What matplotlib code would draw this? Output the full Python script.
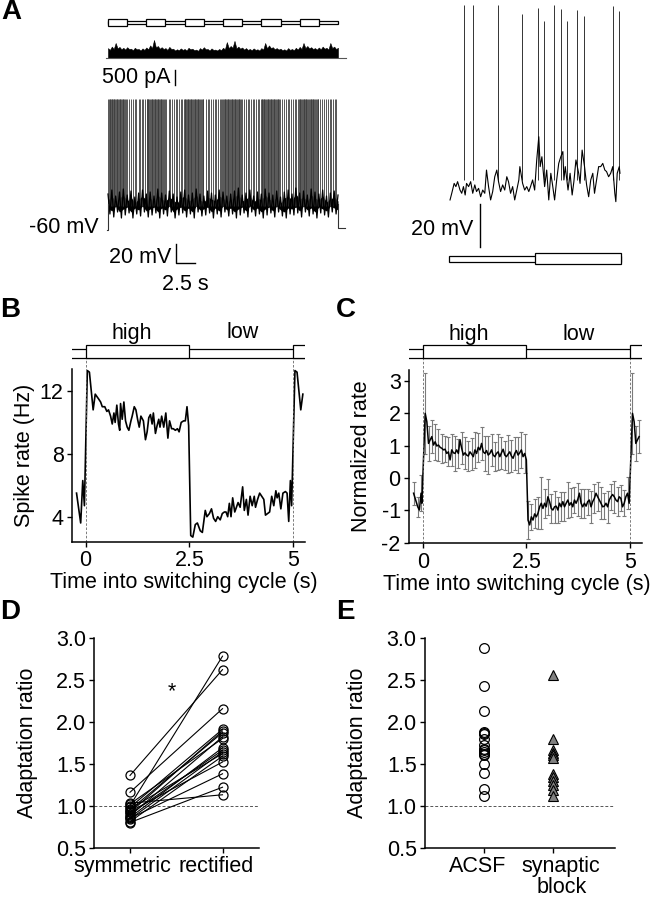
import matplotlib
matplotlib.use('Agg')
import matplotlib.pyplot as plt
from matplotlib.patches import Rectangle
from matplotlib.transforms import ScaledTranslation
import numpy as np

plt.rcParams['font.family'] = ['Liberation Sans', 'DejaVu Sans']
plt.rcParams['axes.unicode_minus'] = False
FS = 15.5

# ---------------- data ----------------
# Panel A (left): 30 s recording, stimulus switching every 2.5 s
A_stim_on = [0, 5, 10, 15, 20, 25]
A_stim_dur = 2.5
A_stim_end = 30
A_cur_top = [330, 270, 380, 300, 500, 320, 370, 290, 340, 280,
             360, 300, 310, 260, 340, 290, 300, 250, 320, 270,
             350, 290, 420, 330, 600, 350, 400, 310, 360, 300,
             330, 270, 370, 300, 310, 250, 290, 260, 320, 270,
             300, 250, 340, 290, 310, 260, 280, 240, 330, 280,
             360, 290, 300, 250, 320, 270, 280, 250, 300, 260,
             340, 290, 530, 330, 400, 340, 570, 320, 380, 310,
             350, 280, 330, 270, 300, 260, 320, 270, 290, 250,
             330, 280, 500, 320, 420, 330, 360, 290, 330, 280,
             310, 260, 290, 250, 330, 270, 300, 260, 340, 280,
             370, 300, 500, 330, 400, 320, 360, 300, 330, 280,
             350, 290, 380, 310, 340, 280, 500, 330, 380, 300,
             340]
A_v_up = [-24, -20, -26, -22, -19, -25, -21, -27, -23, -20,
          -24, -22, -26, -19, -23, -25, -21, -24, -27, -22,
          -20, -25, -23, -19, -24, -26, -21, -23, -25, -20,
          -22, -26, -24, -21, -18, -25, -23, -20, -26, -22,
          -24, -19, -23, -25, -21, -27, -22, -20, -24, -18,
          -23, -21, -25, -19, -22, -24, -20, -26, -23, -21,
          -25]
A_v_lo = [-44, -47, -42, -48, -45, -43, -48, -44, -46, -42,
          -47, -45, -43, -48, -44, -46, -42, -48, -45, -43,
          -47, -44, -48, -42, -46, -45, -43, -48, -44, -47,
          -42, -46, -44, -48, -45, -43, -47, -42, -46, -44,
          -48, -45, -43, -47, -42, -46, -48, -44, -45, -43,
          -47, -42, -46, -44, -48, -43, -45, -47, -42, -44,
          -46]
A_spikes = [0.05, 0.12, 0.2, 0.31, 0.4, 0.47, 0.58, 0.66, 0.75, 0.83, 0.95, 1.04, 1.12,
            1.23, 1.31, 1.42, 1.5, 1.61, 1.7, 1.79, 1.9, 2.01, 2.1, 2.22, 2.33, 2.42,
            2.7, 2.95, 3.25, 3.5, 3.7, 3.98, 4.2, 4.41, 4.6, 4.83,
            5.04, 5.1, 5.19, 5.28, 5.39, 5.46, 5.57, 5.69, 5.77, 5.88, 5.96, 6.07, 6.18,
            6.27, 6.36, 6.48, 6.55, 6.66, 6.78, 6.86, 6.97, 7.08, 7.2, 7.29, 7.41,
            7.62, 7.9, 8.15, 8.33, 8.6, 8.81, 9.05, 9.28, 9.5, 9.7, 9.88,
            10.03, 10.09, 10.18, 10.3, 10.37, 10.49, 10.58, 10.67, 10.79, 10.88, 10.99,
            11.06, 11.17, 11.3, 11.38, 11.47, 11.6, 11.68, 11.8, 11.91, 12.0, 12.12,
            12.2, 12.33, 12.45,
            12.75, 13.0, 13.2, 13.48, 13.7, 13.92, 14.1, 14.35, 14.55, 14.75, 14.92,
            15.05, 15.11, 15.2, 15.32, 15.4, 15.51, 15.6, 15.71, 15.8, 15.92, 16.0,
            16.13, 16.22, 16.3, 16.43, 16.52, 16.61, 16.73, 16.82, 16.9, 17.03, 17.12,
            17.25, 17.33, 17.44,
            17.68, 17.95, 18.2, 18.4, 18.66, 18.85, 19.1, 19.3, 19.5, 19.72, 19.9,
            20.04, 20.1, 20.21, 20.29, 20.4, 20.5, 20.61, 20.7, 20.82, 20.9, 21.01,
            21.1, 21.22, 21.32, 21.41, 21.5, 21.63, 21.71, 21.83, 21.92, 22.02, 22.14,
            22.23, 22.35, 22.44,
            22.7, 22.98, 23.22, 23.45, 23.66, 23.9, 24.12, 24.33, 24.56, 24.78, 24.93,
            25.03, 25.1, 25.2, 25.31, 25.39, 25.5, 25.58, 25.7, 25.81, 25.89, 26.0,
            26.11, 26.2, 26.32, 26.42, 26.5, 26.62, 26.71, 26.8, 26.93, 27.02, 27.13,
            27.22, 27.34, 27.43,
            27.7, 27.96, 28.2, 28.45, 28.68, 28.9, 29.12, 29.35, 29.57, 29.8]
A_spike_peak = 71
A_hold = -60

# Panel A (right): one 5 s cycle, low then high
AR_t = [0.03, 0.08, 0.15, 0.20, 0.25, 0.32, 0.37, 0.42, 0.47, 0.51,
        0.57, 0.63, 0.69, 0.75, 0.80, 0.86, 0.92, 0.98, 1.04, 1.09,
        1.15, 1.21, 1.27, 1.33, 1.39, 1.44, 1.50, 1.56, 1.62, 1.68,
        1.73, 1.79, 1.85, 1.91, 1.97, 2.03, 2.06, 2.14, 2.20, 2.26,
        2.32, 2.37, 2.43, 2.49, 2.55, 2.61, 2.65, 2.70, 2.78, 2.84,
        2.90, 2.96, 3.01, 3.07, 3.13, 3.19, 3.25, 3.31, 3.34, 3.38,
        3.46, 3.52, 3.58, 3.63, 3.69, 3.77, 3.81, 3.87, 3.94, 4.00,
        4.06, 4.12, 4.18, 4.23, 4.29, 4.35, 4.41, 4.47, 4.53, 4.58,
        4.64, 4.70, 4.76, 4.82, 4.85, 4.89, 4.95, 4.97]
AR_v = [-57.3, -54.2, -49.6, -51.1, -48.8, -52.7, -54.2, -51.1, -55.0, -49.6,
        -51.1, -48.8, -54.2, -50.3, -53.4, -51.9, -55.8, -52.7, -54.2, -43.4,
        -51.1, -57.3, -53.4, -46.5, -43.4, -48.8, -53.4, -50.3, -52.7, -46.5,
        -48.8, -54.2, -51.1, -57.3, -52.7, -48.0, -41.8, -49.6, -52.7, -51.1,
        -53.4, -51.1, -48.0, -52.7, -38.7, -27.9, -41.8, -37.2, -51.1, -43.4,
        -57.3, -44.9, -50.3, -57.3, -48.0, -40.3, -37.2, -34.8, -48.0, -41.8,
        -52.7, -44.9, -55.0, -48.8, -38.7, -44.9, -49.6, -34.1, -41.8, -50.3,
        -55.8, -48.0, -44.9, -54.2, -48.0, -41.8, -41.8, -40.3, -43.4, -44.1,
        -46.5, -44.9, -41.8, -54.2, -58.1, -44.9, -41.8, -44.9]
AR_spk_t = [0.44, 0.70, 1.43, 2.11, 2.58, 2.76, 3.04, 3.26, 3.42, 3.73, 3.91, 4.78, 4.94]
AR_spk_peak = [33.4, 33.4, 33.4, 29.2, 31.8, 26.1, 33.4, 31.4, 26.1, 31.0, 28.3, 32.9, 30.7]
AR_stim_on = [2.5]
AR_stim_dur = 2.5
AR_cycle = 5

# Panel B: spike rate of one cell
B_time = [-0.22, -0.12, -0.07, -0.03, 0.04, 0.09, 0.18, 0.23, 0.31, 0.36,
          0.40, 0.46, 0.51, 0.55, 0.60, 0.64, 0.68, 0.71, 0.75, 0.79,
          0.82, 0.84, 0.88, 0.92, 0.96, 1.00, 1.04, 1.09, 1.12, 1.17,
          1.21, 1.25, 1.29, 1.33, 1.39, 1.44, 1.48, 1.52, 1.56, 1.60,
          1.63, 1.68, 1.72, 1.76, 1.79, 1.83, 1.88, 1.93, 1.98, 2.02,
          2.07, 2.11, 2.16, 2.21, 2.25, 2.30, 2.36, 2.40, 2.44, 2.48,
          2.53, 2.58, 2.64, 2.69, 2.76, 2.81, 2.88, 2.92, 2.98, 3.03,
          3.08, 3.13, 3.18, 3.24, 3.29, 3.34, 3.38, 3.42, 3.46, 3.50,
          3.54, 3.59, 3.63, 3.67, 3.72, 3.78, 3.82, 3.87, 3.91, 3.96,
          4.01, 4.06, 4.09, 4.14, 4.19, 4.24, 4.29, 4.33, 4.38, 4.43,
          4.48, 4.53, 4.58, 4.61, 4.65, 4.70, 4.75, 4.81, 4.85, 4.89,
          4.93, 4.96, 5.04, 5.09, 5.18, 5.23]
B_rate = [5.5, 3.6, 6.3, 4.7, 13.3, 13.2, 10.8, 11.8, 11.5, 11.3,
          11.0, 11.0, 10.7, 10.8, 10.4, 9.9, 10.6, 10.0, 11.1, 9.9,
          9.5, 11.2, 10.2, 11.3, 10.1, 9.7, 9.5, 10.1, 10.4, 11.0,
          10.8, 10.2, 9.7, 10.4, 10.1, 8.9, 9.4, 10.3, 10.5, 9.9,
          10.6, 9.3, 9.8, 10.2, 9.7, 10.4, 9.7, 10.6, 9.0, 10.1,
          9.6, 9.6, 9.5, 9.6, 9.4, 10.0, 10.1, 10.1, 11.0, 9.8,
          2.8, 2.7, 3.5, 3.6, 3.1, 3.0, 4.4, 4.0, 4.2, 4.5,
          3.9, 3.7, 4.0, 3.8, 4.2, 4.3, 4.3, 4.0, 4.85, 4.0,
          5.2, 4.3, 4.6, 4.9, 4.6, 5.9, 4.4, 5.1, 4.1, 5.3,
          4.7, 5.3, 4.6, 5.1, 5.5, 5.3, 5.1, 4.1, 4.2, 4.3,
          5.3, 4.7, 5.65, 5.2, 5.5, 4.5, 5.5, 5.6, 5.5, 3.7,
          6.3, 4.7, 13.3, 13.2, 10.8, 11.8]

# Panel C: normalized rate, mean +/- SEM
C_time = [-0.22, -0.17, -0.12, -0.08, -0.04, -0.02, 0.06, 0.10, 0.14, 0.18,
          0.22, 0.26, 0.30, 0.34, 0.38, 0.42, 0.46, 0.50, 0.54, 0.58,
          0.62, 0.66, 0.70, 0.74, 0.78, 0.82, 0.86, 0.90, 0.94, 0.98,
          1.02, 1.06, 1.10, 1.14, 1.18, 1.22, 1.26, 1.30, 1.34, 1.38,
          1.42, 1.46, 1.50, 1.54, 1.58, 1.62, 1.66, 1.70, 1.74, 1.78,
          1.82, 1.86, 1.90, 1.94, 1.98, 2.02, 2.06, 2.10, 2.14, 2.18,
          2.22, 2.26, 2.30, 2.34, 2.38, 2.42, 2.46, 2.50, 2.54, 2.58,
          2.62, 2.66, 2.70, 2.74, 2.78, 2.82, 2.86, 2.90, 2.94, 2.98,
          3.02, 3.06, 3.10, 3.14, 3.18, 3.22, 3.26, 3.30, 3.34, 3.38,
          3.42, 3.46, 3.50, 3.54, 3.58, 3.62, 3.66, 3.70, 3.74, 3.78,
          3.82, 3.86, 3.90, 3.94, 3.98, 4.02, 4.06, 4.10, 4.14, 4.18,
          4.22, 4.26, 4.30, 4.34, 4.38, 4.42, 4.46, 4.50, 4.54, 4.58,
          4.62, 4.66, 4.70, 4.74, 4.78, 4.82, 4.86, 4.90, 4.94, 4.98,
          5.06, 5.10, 5.14, 5.18, 5.22]
C_mean = [-0.47, -0.68, -0.89, -0.99, -0.47, -0.78, 2.00, 1.74, 1.07, 1.18,
          1.28, 1.02, 1.12, 0.99, 1.02, 0.95, 0.92, 0.87, 0.89, 0.76,
          0.81, 0.56, 0.87, 0.78, 0.76, 0.87, 0.76, 1.18, 0.92, 0.71,
          0.78, 0.71, 0.68, 0.81, 0.74, 0.66, 0.87, 0.76, 0.95, 0.87,
          1.07, 0.81, 0.76, 0.85, 0.71, 0.76, 0.87, 0.71, 0.66, 0.76,
          0.81, 0.66, 0.78, 0.89, 0.71, 0.66, 0.74, 0.81, 0.68, 0.61,
          0.76, 0.85, 0.71, 0.78, 0.87, 0.66, 0.76, 0.56, -1.30, -1.45,
          -1.20, -1.30, -1.11, -1.20, -1.09, -0.89, -0.78, -0.94, -0.78, -0.89,
          -0.58, -0.73, -0.94, -0.99, -0.89, -0.87, -0.99, -0.78, -0.89, -0.73,
          -0.89, -0.78, -0.68, -0.84, -0.76, -0.89, -0.68, -0.78, -0.66, -0.47,
          -0.78, -0.89, -0.78, -0.87, -0.73, -0.68, -0.89, -0.73, -0.63, -0.47,
          -0.58, -0.68, -0.78, -0.89, -0.87, -0.78, -0.89, -0.68, -0.58, -0.51,
          -0.58, -0.68, -0.73, -0.58, -0.63, -0.89, -0.78, -0.58, -0.47, -0.78,
          2.00, 1.74, 1.07, 1.18, 1.28]
C_err = [0.35, 0.40, 0.30, 0.25, 0.55, 0.40, 1.25, 0.90, 0.55, 0.45,
         0.50, 0.45, 0.55, 0.40, 0.50, 0.60, 0.45, 0.50, 0.40, 0.55,
         0.45, 0.58, 0.50, 0.45, 0.55, 0.50, 0.45, 0.55, 0.50, 0.45,
         0.50, 0.55, 0.45, 0.60, 0.50, 0.45, 0.55, 0.50, 0.45, 0.55,
         0.50, 0.45, 0.55, 0.50, 0.60, 0.45, 0.50, 0.55, 0.45, 0.50,
         0.55, 0.45, 0.50, 0.55, 0.45, 0.50, 0.60, 0.45, 0.50, 0.55,
         0.50, 0.45, 0.55, 0.50, 0.55, 0.50, 0.60, 0.65, 0.60, 0.45,
         0.40, 0.35, 0.45, 0.40, 0.50, 0.45, 0.80, 0.50, 0.45, 0.40,
         0.55, 0.75, 0.45, 0.40, 0.50, 0.45, 0.40, 0.50, 0.45, 0.40,
         0.45, 0.50, 0.55, 0.40, 0.45, 0.50, 0.40, 0.45, 0.50, 0.65,
         0.45, 0.40, 0.45, 0.50, 0.40, 0.45, 0.50, 0.40, 0.45, 0.50,
         0.45, 0.40, 0.50, 0.45, 0.40, 0.45, 0.50, 0.45, 0.40, 0.45,
         0.50, 0.40, 0.45, 0.50, 0.40, 0.45, 0.40, 0.45, 0.50, 0.45,
         1.25, 0.90, 0.55, 0.45, 0.50]
BC_stim_on = [0, 5]
BC_stim_dur = 2.5
BC_xticks = [0, 2.5, 5]
BC_xticklabels = ['0', '2.5', '5']
B_yticks = [4, 8, 12]
C_yticks = [-2, -1, 0, 1, 2, 3]
BC_labels = ['high', 'low']

# Panel D: paired adaptation ratios
D_categories = ['symmetric', 'rectified']
D_sym = [1.00, 1.36, 1.16, 0.98, 0.92, 0.95, 0.88, 1.02, 0.86, 0.90,
         0.84, 0.96, 0.81, 0.93, 0.85, 0.80, 1.03]
D_rect = [2.78, 2.62, 2.155, 1.91, 1.89, 1.87, 1.82, 1.80, 1.69, 1.66,
          1.64, 1.62, 1.59, 1.52, 1.38, 1.22, 1.13]

# Panel E: ACSF vs synaptic block
E_categories = ['ACSF', 'synaptic\nblock']
E_acsf = [2.88, 2.42, 2.13, 1.88, 1.86, 1.85, 1.80, 1.72, 1.68, 1.66,
          1.64, 1.62, 1.60, 1.50, 1.39, 1.20, 1.12]
E_block = [2.56, 1.80, 1.66, 1.63, 1.60, 1.57, 1.38, 1.34, 1.29, 1.25, 1.19, 1.11]
DE_yticks = [0.5, 1.0, 1.5, 2.0, 2.5, 3.0]

# ---------------- figure ----------------
W, H = 662, 899
fig = plt.figure(figsize=(W / 100, H / 100), dpi=100)


def lin(d1, p1, d2, p2, p):
    return d1 + (p - p1) * (d2 - d1) / (p2 - p1)


def mk(L, R, T, B, xmap, ymap, frame=False):
    ax = fig.add_axes([L / W, 1 - B / H, (R - L) / W, (B - T) / H])
    ax.set_xlim(lin(*xmap, L), lin(*xmap, R))
    ax.set_ylim(lin(*ymap, B), lin(*ymap, T))
    if not frame:
        ax.axis('off')
    return ax


def stim(ax, on, dur, t0, t1, box, thin, lw=0.9):
    ax.add_patch(Rectangle((t0, thin[0]), t1 - t0, thin[1] - thin[0],
                           fc='white', ec='black', lw=lw))
    for t in on:
        ax.add_patch(Rectangle((t, box[0]), dur, box[1] - box[0],
                               fc='white', ec='black', lw=lw))


def style_axes(ax):
    for s in ['top', 'right']:
        ax.spines[s].set_visible(False)
    for s in ['left', 'bottom']:
        ax.spines[s].set_linewidth(1.1)
    ax.tick_params(direction='out', length=3.5, width=1.0, pad=2.5,
                   labelsize=FS, colors='black')


# ---- Panel A left ----
xmapA = (0, 108, 30, 338)
axAs = mk(100, 350, 15, 30, xmapA, (0, 30, 1, 15))
stim(axAs, A_stim_on, A_stim_dur, 0, A_stim_end, (0.267, 0.713), (0.40, 0.58))

axAc = mk(100, 350, 35, 62, xmapA, (0, 58, 500, 43))
tgrid_c = np.linspace(0, A_stim_end, len(A_cur_top))
axAc.fill_between(tgrid_c, 0, A_cur_top, color='black', lw=0.4)
axAc.plot([-0.2, 31], [0, 0], color='#555555', lw=0.8)
axAc.plot([8.74, 8.74], [-400, -900], color='black', lw=1.0, clip_on=False)
axAc.text(8.09, -843, '500 pA', ha='right', va='baseline', fontsize=FS, clip_on=False)

axAv = mk(100, 350, 90, 300, xmapA, (-60, 230, -40, 210))
tgrid_v = np.linspace(0, A_stim_end, len(A_v_up))
half = (tgrid_v[1] - tgrid_v[0]) / 2
axAv.vlines(A_spikes, -36, A_spike_peak, color='#3c3c3c', lw=0.6)
# noisy membrane potential: alternate between upper and lower excursions
zz_t, zz_v = [], []
for t, u, l in zip(tgrid_v, A_v_up, A_v_lo):
    zz_t += [t, t + half]
    zz_v += [u, l]
axAv.fill_between(tgrid_v, np.array(A_v_lo) + 6, np.array(A_v_up) - 6, color='black', lw=0)
axAv.plot(zz_t[:-1], zz_v[:-1], color='black', lw=0.9)
axAv.plot([-0.15, 0, 0], [A_hold, A_hold, -34], color='#333333', lw=0.8)
axAv.plot([A_stim_end, A_stim_end, 30.9], [-34, A_hold + 2, A_hold + 2], color='#333333', lw=0.8)
axAv.plot([8.83, 8.83, 11.33], [-74, -93.3, -93.3], color='black', lw=1.0, clip_on=False)
axAv.text(8.3, -93.3, '20 mV', ha='right', va='baseline', fontsize=FS, clip_on=False)
axAv.text(10.04, -120, '2.5 s', ha='center', va='baseline', fontsize=FS, clip_on=False)
axAv.text(-1.27, -63.3, '-60 mV', ha='right', va='baseline', fontsize=FS, clip_on=False)

# ---- Panel A right ----
axAR = mk(440, 635, 0, 275, (0, 449, 5, 621), (-55, 195, -35, 152))
axAR.vlines(AR_spk_t, -48, AR_spk_peak, color='#333333', lw=0.7)
axAR.plot(AR_t, AR_v, color='black', lw=0.8)
axAR.plot([0.9, 0.9], [-59.2, -79.2], color='black', lw=1.0)
axAR.text(0.71, -73.6, '20 mV', ha='right', va='baseline', fontsize=FS)
stim(axAR, AR_stim_on, AR_stim_dur, 0, AR_cycle, (-87.1, -82.0), (-86.2, -83.4))

# ---- Panel B ----
xmapB = (0, 85.67, 5, 293.3)
ymapB = (12, 391, 4, 516.7)
axB = mk(72, 305, 369, 541.7, xmapB, ymapB, frame=True)
style_axes(axB)
axB.plot(B_time, B_rate, color='black', lw=1.2)
yb0 = axB.get_ylim()[0]
ytopB = lin(*ymapB, 358)
for t in BC_stim_on:
    axB.plot([t, t], [yb0, ytopB], color='#666666', lw=0.6, ls=(0, (3, 2)), clip_on=False)
axB.set_xticks(BC_xticks)
axB.set_xticklabels(BC_xticklabels)
axB.set_yticks(B_yticks)
axB.set_ylabel('Spike rate (Hz)', fontsize=FS)
axB.yaxis.set_label_coords(-0.16, 0.5)
axB.set_xlabel('Time into switching cycle (s)', fontsize=FS)
axB.xaxis.set_label_coords(0.48, -0.175)
axB.text(1.115, lin(*ymapB, 338.5), BC_labels[0], ha='center', va='baseline', fontsize=FS, clip_on=False)
axB.text(3.79, lin(*ymapB, 338.5), BC_labels[1], ha='center', va='baseline', fontsize=FS, clip_on=False)
axBs = mk(72, 305, 340, 362, xmapB, (0, 362, 1, 340))
stim(axBs, BC_stim_on, BC_stim_dur, -1, 6, (0.168, 0.773), (0.168, 0.577))

# ---- Panel C ----
xmapC = (0, 422.7, 5, 630)
ymapC = (3, 381, -2, 542.7)
axC = mk(409, 641.7, 370, 543.3, xmapC, ymapC, frame=True)
style_axes(axC)
axC.errorbar(C_time, C_mean, yerr=C_err, fmt='none', ecolor='#7a7a7a',
             elinewidth=0.8, capsize=1.3, capthick=0.8, errorevery=2)
axC.plot(C_time, C_mean, color='black', lw=1.1)
yc0 = axC.get_ylim()[0]
ytopC = lin(*ymapC, 358)
for t in BC_stim_on:
    axC.plot([t, t], [yc0, ytopC], color='#666666', lw=0.6, ls=(0, (3, 2)), clip_on=False)
axC.set_xticks(BC_xticks)
axC.set_xticklabels(BC_xticklabels)
axC.set_yticks(C_yticks)
axC.set_yticklabels([str(v) for v in C_yticks])
axC.set_ylabel('Normalized rate', fontsize=FS)
axC.yaxis.set_label_coords(-0.157, 0.5)
axC.set_xlabel('Time into switching cycle (s)', fontsize=FS)
axC.xaxis.set_label_coords(0.463, -0.175)
axC.text(1.10, lin(*ymapC, 340), BC_labels[0], ha='center', va='baseline', fontsize=FS, clip_on=False)
axC.text(3.77, lin(*ymapC, 340), BC_labels[1], ha='center', va='baseline', fontsize=FS, clip_on=False)
axCs = mk(409, 641.7, 340, 362, xmapC, (0, 362, 1, 340))
stim(axCs, BC_stim_on, BC_stim_dur, -1, 6, (0.168, 0.773), (0.168, 0.577))

# ---- Panel D ----
ymapDE = (3.0, 637.7, 0.5, 847.7)
axD = mk(94.3, 259.3, 637.7, 847.7, (0, 130, 1, 222.5), ymapDE, frame=True)
style_axes(axD)
axD.axhline(1.0, color='#555555', lw=0.7, ls=(0, (3, 2)))
for s, r in zip(D_sym, D_rect):
    axD.plot([0, 1], [s, r], color='black', lw=0.8, zorder=2)
axD.plot(np.zeros(len(D_sym)), D_sym, 'o', ms=6.5, mfc='none', mec='black', mew=0.9, zorder=3)
axD.plot(np.ones(len(D_rect)), D_rect, 'o', ms=6.5, mfc='none', mec='black', mew=0.9, zorder=3)
axD.set_xticks([0, 1])
axD.set_xticklabels(D_categories)
axD.set_yticks(DE_yticks)
axD.set_yticklabels(['%.1f' % v for v in DE_yticks])
axD.set_ylabel('Adaptation ratio', fontsize=FS)
axD.yaxis.set_label_coords(-0.34, 0.5)
axD.text(0.457, 2.294, '*', ha='center', va='baseline', fontsize=FS)
for lab, dx in zip(axD.get_xticklabels(), [-8, -6]):
    lab.set_transform(lab.get_transform() + ScaledTranslation(dx / 100, 0, fig.dpi_scale_trans))

# ---- Panel E ----
axE = mk(425, 615, 637.7, 847.7, (0, 484.3, 1, 553.3), ymapDE, frame=True)
style_axes(axE)
axE.axhline(1.0, color='#555555', lw=0.7, ls=(0, (3, 2)))
axE.plot(np.zeros(len(E_acsf)), E_acsf, 'o', ms=7.0, mfc='none', mec='black', mew=0.9)
axE.plot(np.ones(len(E_block)), E_block, '^', ms=7.4, mfc='#808080', mec='black', mew=0.8)
axE.set_xticks([0, 1])
axE.set_xticklabels(E_categories, linespacing=1.0)
axE.set_yticks(DE_yticks)
axE.set_yticklabels(['%.1f' % v for v in DE_yticks])
axE.set_ylabel('Adaptation ratio', fontsize=FS)
axE.yaxis.set_label_coords(-0.298, 0.5)
for lab, dx in zip(axE.get_xticklabels(), [-7, 8]):
    lab.set_transform(lab.get_transform() + ScaledTranslation(dx / 100, 0, fig.dpi_scale_trans))

# ---- panel letters ----
for letter, px, py in [('A', 1, -1), ('B', 0, 297), ('C', 336, 297), ('D', 0, 599), ('E', 336, 599)]:
    fig.text(px / W, 1 - py / H, letter, ha='left', va='top', fontsize=20, fontweight='bold')

fig.savefig('out.png', dpi=100)
